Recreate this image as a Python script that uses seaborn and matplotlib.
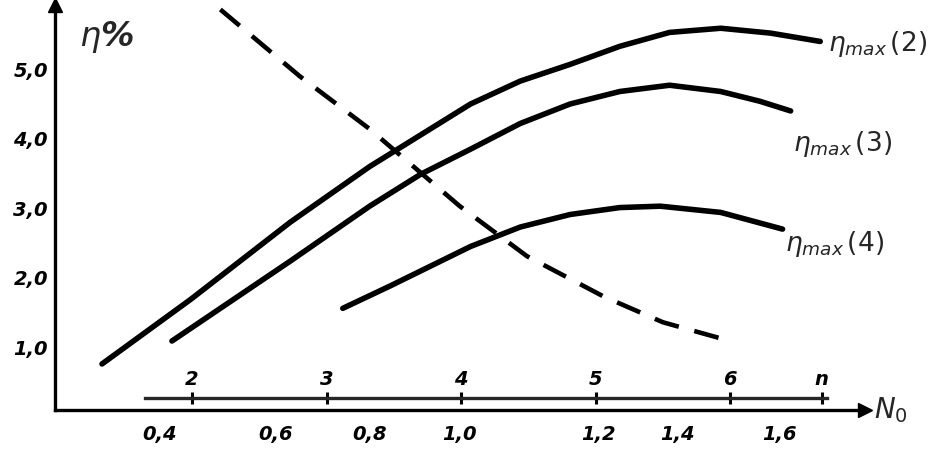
import pandas as pd
import matplotlib.pyplot as plt
import seaborn as sns

# 1. DATA (x is the number of blades n)
n_eta2 = [1.33, 1.99, 2.73, 3.32, 4.07, 4.44, 4.81, 5.18, 5.55, 5.93, 6.30, 6.67]
eta2 = [0.76, 1.69, 2.80, 3.60, 4.50, 4.83, 5.07, 5.33, 5.53, 5.59, 5.52, 5.40]

n_eta3 = [1.85, 2.73, 3.32, 3.70, 4.07, 4.44, 4.81, 5.18, 5.55, 5.93, 6.22, 6.45]
eta3 = [1.09, 2.24, 3.03, 3.49, 3.85, 4.22, 4.50, 4.68, 4.77, 4.68, 4.54, 4.40]

n_eta4 = [3.12, 3.47, 4.07, 4.44, 4.81, 5.18, 5.48, 5.93, 6.39]
eta4 = [1.56, 1.88, 2.45, 2.73, 2.91, 3.01, 3.03, 2.94, 2.70]

n_dash = [2.21, 2.80, 3.32, 3.99, 4.49, 5.06, 5.50, 6.00]
eta_dash = [5.86, 4.90, 4.14, 3.03, 2.31, 1.73, 1.36, 1.09]

# N0 scale: value of n where each N0 tick sits
n0_labels = ['0,4', '0,6', '0,8', '1,0', '1,2', '1,4', '1,6']
n0_at_n = [1.76, 2.62, 3.32, 3.99, 5.02, 5.61, 6.37]

n_ticks = [2, 3, 4, 5, 6, 6.68]
n_labels = ['2', '3', '4', '5', '6', 'n']

y_ticks = [1, 2, 3, 4, 5]
y_labels = ['1,0', '2,0', '3,0', '4,0', '5,0']

curve_names = [r'$\eta_{max}\,(2)$', r'$\eta_{max}\,(3)$', r'$\eta_{max}\,(4)$']

# 2. PLOT
sns.set_style('white')
plt.rcParams['font.family'] = ['DejaVu Sans']
plt.rcParams['mathtext.fontset'] = 'dejavusans'

fig = plt.figure(figsize=(9.47, 4.61), dpi=100)
ax = fig.add_axes([0.058, 0.111, 0.855, 0.879])

lw = 4.0
sns.lineplot(x=n_eta2, y=eta2, color='k', lw=lw, ax=ax)
sns.lineplot(x=n_eta3, y=eta3, color='k', lw=lw, ax=ax)
sns.lineplot(x=n_eta4, y=eta4, color='k', lw=lw, ax=ax)
sns.lineplot(x=n_dash, y=eta_dash, color='k', lw=3.3, ax=ax, linestyle=(0, (5.5, 3.5)))

ax.set_xlim(0.98, 7.0)
ax.set_ylim(0.1, 5.93)

for sp in ['top', 'right']:
    ax.spines[sp].set_visible(False)
for sp in ['left', 'bottom']:
    ax.spines[sp].set_linewidth(2.4)
    ax.spines[sp].set_color('k')

tick_font = dict(fontsize=14, fontweight='bold', fontstyle='italic')

ax.set_yticks(y_ticks)
ax.set_yticklabels(y_labels, **tick_font)
ax.set_xticks(n0_at_n)
ax.set_xticklabels(n0_labels, **tick_font)
ax.tick_params(axis='y', direction='in', length=6, width=2.2, pad=5, colors='k')
ax.tick_params(axis='x', direction='in', length=8, width=2.2, pad=11, colors='k')

# the n scale drawn just above the N0 axis
sec = ax.secondary_xaxis(0.03)
sec.set_alignment('top')
sec.spines['top'].set_bounds(1.65, 6.72)
sec.spines['top'].set_linewidth(2.4)
sec.set_xticks(n_ticks)
sec.set_xticklabels(n_labels, **tick_font)
sec.tick_params(axis='x', direction='inout', length=8, width=2.2, pad=2, colors='k')

# arrows and axis names
ax.plot(1, 0, '>k', ms=10, transform=ax.transAxes, clip_on=False)
ax.plot(0, 1, '^k', ms=10, transform=ax.transAxes, clip_on=False)
ax.text(0.03, 0.92, r'$\eta$%', transform=ax.transAxes, fontsize=24,
        fontstyle='italic', fontweight='bold', va='center')
ax.text(1.012, 0.0, r'$N_0$', transform=ax.transAxes, fontsize=20,
        fontstyle='italic', fontweight='bold', va='center')

# curve names at the right ends
label_pos = [(6.73, 5.36), (6.47, 3.92), (6.41, 2.48)]
for name, (x, y) in zip(curve_names, label_pos):
    ax.text(x, y, name, fontsize=19, va='center', ha='left', clip_on=False)

plt.savefig('out.png', dpi=100)
